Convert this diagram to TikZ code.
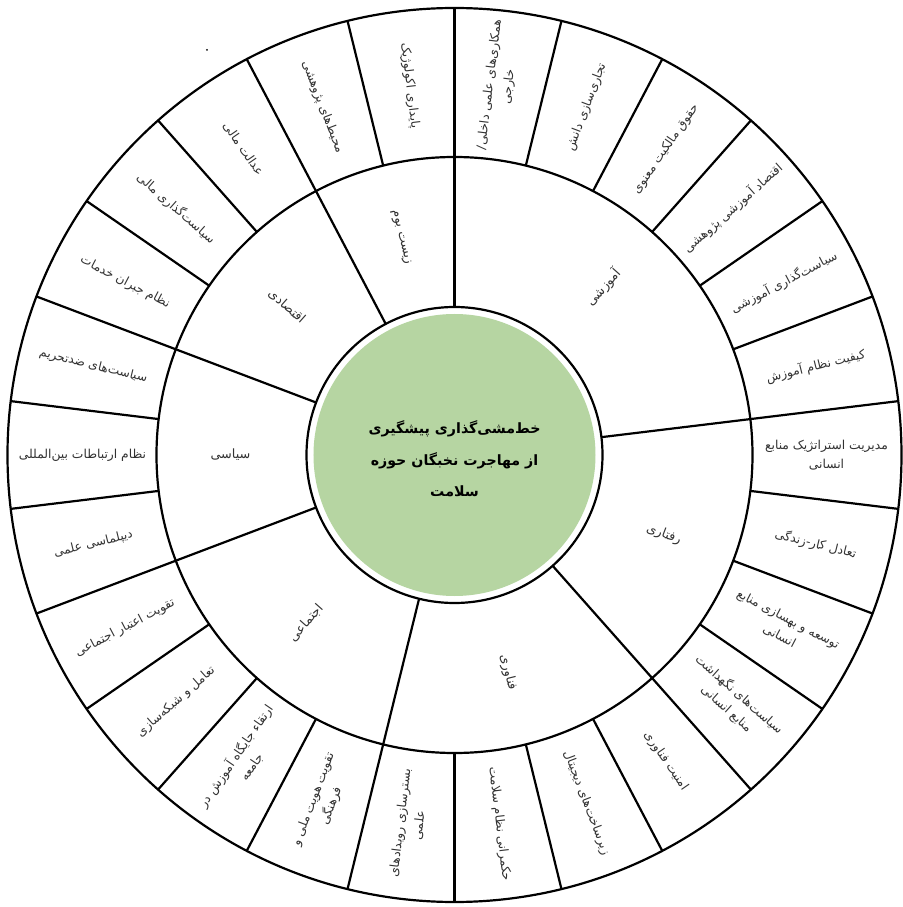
\documentclass[tikz,border=0pt]{standalone}
\usepackage{fontspec}
\newfontfamily\arabicfont[Script=Arabic]{DejaVu Sans}
\TeXXeTstate=1
\newcommand\fatxt[1]{\beginR #1\endR}
\definecolor{centergreen}{RGB}{182,213,162}
\definecolor{labelgray}{RGB}{50,50,50}
\newcommand\segang{360/26}
\newcommand\olab[2]{%
  \pgfmathsetmacro\mang{90-(#1+0.5)*\segang}%
  \pgfmathsetmacro\rang{(\mang<-90)?(\mang+180):(\mang)}%
  \node[olabel, rotate=\rang] (o#1) at (\mang:372) {#2};}
\newcommand\mlab[3]{%
  \pgfmathsetmacro\mang{90-(#2)*\segang}%
  \pgfmathsetmacro\rang{(\mang<-90)?(\mang+180):(\mang)}%
  \node[mlabel, rotate=\rang] (#1) at (\mang:224) {#3};}
\begin{document}
\begin{tikzpicture}[x=1pt,y=1pt,
  ringline/.style={line width=2.2pt, draw=black},
  olabel/.style={font=\arabicfont\fontsize{12.3}{19}\selectfont, text=labelgray, align=center, inner sep=0pt},
  mlabel/.style={font=\arabicfont\fontsize{12.8}{18}\selectfont, text=labelgray, align=center, inner sep=0pt},
  centerlabel/.style={font=\arabicfont\bfseries\fontsize{14.2}{31.5}\selectfont, text=black, align=center, inner sep=0pt}]
\useasboundingbox (-454.5,-452) rectangle (447.5,455);
\fill[white] (-454.5,-452) rectangle (447.5,455);
% rings
\draw[ringline] (0,0) circle[radius=447];
\draw[ringline] (0,0) circle[radius=298];
% outer dividers
\foreach \k in {0,...,25}
  \draw[ringline] ({90-\k*\segang}:298) -- ({90-\k*\segang}:447);
% middle dividers
\foreach \k in {0,6,10,14,18,21,24}
  \draw[ringline] ({90-\k*\segang}:148) -- ({90-\k*\segang}:298);
% centre
\draw[ringline, fill=white] (0,0) circle[radius=148];
\fill[centergreen] (0,0) circle[radius=141];
\node[centerlabel] (center) at (0,-4) {\fatxt{خط‌مشی‌گذاری پیشگیری}\\\fatxt{از مهاجرت نخبگان حوزه}\\\fatxt{سلامت}};
% stray dot
\fill[black] (-247.5,405) circle[radius=1];
% outer labels
\olab{0}{\fatxt{همکاری‌های علمی داخلی/}\\\fatxt{خارجی}}
\olab{1}{\fatxt{تجاری‌سازی دانش}}
\olab{2}{\fatxt{حقوق مالکیت معنوی}}
\olab{3}{\fatxt{اقتصاد آموزشی پژوهشی}}
\olab{4}{\fatxt{سیاست‌گذاری آموزشی}}
\olab{5}{\fatxt{کیفیت نظام آموزش}}
\olab{6}{\fatxt{مدیریت استراتژیک منابع}\\\fatxt{انسانی}}
\olab{7}{\fatxt{تعادل کار-زندگی}}
\olab{8}{\fatxt{توسعه و بهسازی منابع}\\\fatxt{انسانی}}
\olab{9}{\fatxt{سیاست‌های نگهداشت}\\\fatxt{منابع انسانی}}
\olab{10}{\fatxt{امنیت فناوری}}
\olab{11}{\fatxt{زیرساخت‌های دیجیتال}}
\olab{12}{\fatxt{حکمرانی نظام سلامت}}
\olab{13}{\fatxt{بسترسازی رویدادهای}\\\fatxt{علمی}}
\olab{14}{\fatxt{تقویت هویت ملی و}\\\fatxt{فرهنگی}}
\olab{15}{\fatxt{ارتقاء جایگاه آموزش در}\\\fatxt{جامعه}}
\olab{16}{\fatxt{تعامل و شبکه‌سازی}}
\olab{17}{\fatxt{تقویت اعتبار اجتماعی}}
\olab{18}{\fatxt{دیپلماسی علمی}}
\olab{19}{\fatxt{نظام ارتباطات بین‌المللی}}
\olab{20}{\fatxt{سیاست‌های ضدتحریم}}
\olab{21}{\fatxt{نظام جبران خدمات}}
\olab{22}{\fatxt{سیاست‌گذاری مالی}}
\olab{23}{\fatxt{عدالت مالی}}
\olab{24}{\fatxt{محیط‌های پژوهشی}}
\olab{25}{\fatxt{پایداری اکولوژیک}}
% middle labels
\mlab{amoozeshi}{3}{\fatxt{آموزشی}}
\mlab{raftari}{8}{\fatxt{رفتاری}}
\mlab{fanavari}{12}{\fatxt{فناوری}}
\mlab{ejtemaei}{16}{\fatxt{اجتماعی}}
\mlab{siasi}{19.5}{\fatxt{سیاسی}}
\mlab{eghtesadi}{22.5}{\fatxt{اقتصادی}}
\mlab{zistboom}{25}{\fatxt{زیست بوم}}
\end{tikzpicture}
\end{document}
